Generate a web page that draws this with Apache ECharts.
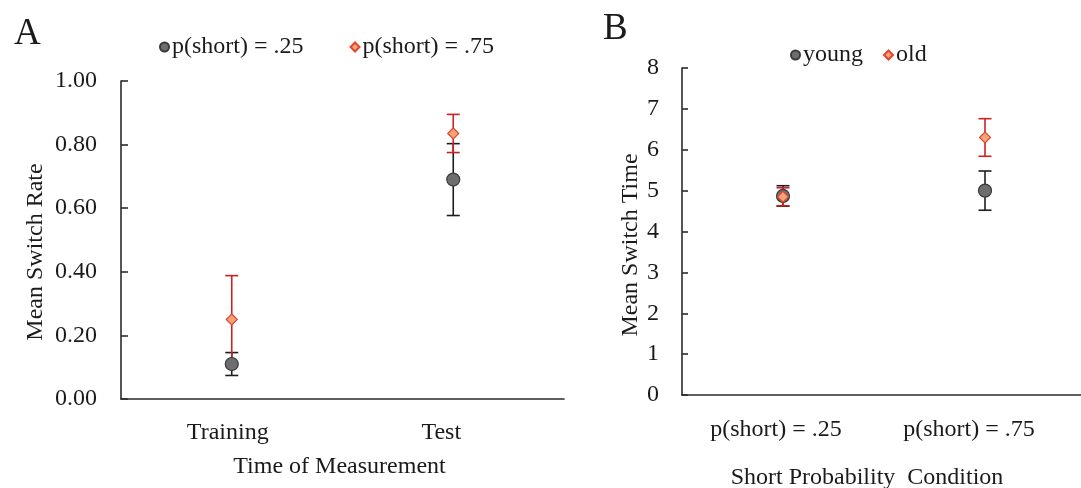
<!DOCTYPE html>
<html>
<head>
<meta charset="utf-8">
<script src="https://cdn.jsdelivr.net/npm/echarts@6/dist/echarts.min.js"></script>
<style>
html,body{margin:0;padding:0;background:#fff;}
#chart{width:1081px;height:488px;}
</style>
</head>
<body>
<div id="chart"></div>
<script>
// Panel A data
const catsA = ['Training', 'Test'];
const rateLowProb = [0.11, 0.69];      // p(short) = .25
const rateLowProbErr = [0.036, 0.113];
const rateHighProb = [0.25, 0.835];    // p(short) = .75
const rateHighProbErr = [0.138, 0.06];
const ticksA = [0, 0.2, 0.4, 0.6, 0.8, 1.0];

// Panel B data
const catsB = ['p(short) = .25', 'p(short) = .75'];
const timeYoung = [4.87, 5.0];
const timeYoungErr = [0.25, 0.48];
const timeOld = [4.85, 6.3];
const timeOldErr = [0.22, 0.46];
const ticksB = [0, 1, 2, 3, 4, 5, 6, 7, 8];

const FONT = '"Liberation Serif", "Times New Roman", serif';
const TXT = '#1a1a1a';
const FS = 24;

function errData(means, errs) {
  return means.map((m, i) => [i, m - errs[i], m + errs[i]]);
}
function errSeries(name, xi, yi, means, errs, color, z) {
  return {
    type: 'custom', name: name, xAxisIndex: xi, yAxisIndex: yi, z: z,
    silent: true,
    data: errData(means, errs),
    renderItem: function (params, api) {
      const x = api.value(0);
      const lo = api.coord([x, api.value(1)]);
      const hi = api.coord([x, api.value(2)]);
      const cw = 6.5;
      const st = { stroke: color, lineWidth: 1.6 };
      return {
        type: 'group',
        children: [
          { type: 'line', shape: { x1: lo[0], y1: lo[1], x2: hi[0], y2: hi[1] }, style: st },
          { type: 'line', shape: { x1: lo[0] - cw, y1: lo[1], x2: lo[0] + cw, y2: lo[1] }, style: st },
          { type: 'line', shape: { x1: hi[0] - cw, y1: hi[1], x2: hi[0] + cw, y2: hi[1] }, style: st }
        ]
      };
    }
  };
}

const circleStyle = { color: '#6e6e6e', borderColor: '#3a3a3a', borderWidth: 1.2, opacity: 1 };
const diamondStyle = { color: '#f4a27c', borderColor: '#e0472c', borderWidth: 1.2, opacity: 1 };

const axisLineStyle = { show: true, lineStyle: { color: '#2b2b2b', width: 1.6 } };

const chart = echarts.init(document.getElementById('chart'), null, { renderer: 'canvas' });
chart.setOption({
  animation: false,
  backgroundColor: '#fff',
  textStyle: { fontFamily: FONT, color: TXT },
  title: [
    { text: 'A', left: 9, top: 11, textStyle: { fontFamily: FONT, fontSize: 37, fontWeight: 'normal', color: TXT } },
    { text: 'B', left: 598, top: 6, textStyle: { fontFamily: FONT, fontSize: 37, fontWeight: 'normal', color: TXT } }
  ],
  legend: [
    {
      data: [
        { name: 'p(short) = .25', icon: 'circle' },
        { name: 'p(short) = .75', icon: 'diamond' }
      ],
      left: 154, top: 30, itemWidth: 9, itemHeight: 9, itemGap: 46,
      textStyle: { fontFamily: FONT, fontSize: FS, color: TXT, padding: [0, 0, 0, -2] }
    },
    {
      data: [
        { name: 'young', icon: 'circle' },
        { name: 'old', icon: 'diamond' }
      ],
      left: 785, top: 38, itemWidth: 9, itemHeight: 9, itemGap: 20,
      textStyle: { fontFamily: FONT, fontSize: FS, color: TXT, padding: [0, 0, 0, -2] }
    }
  ],
  grid: [
    { left: 121, top: 81, width: 443, height: 318, outerBoundsMode: 'none', containLabel: false },
    { left: 682, top: 68, width: 404, height: 327, outerBoundsMode: 'none', containLabel: false }
  ],
  xAxis: [
    {
      gridIndex: 0, type: 'category', data: catsA, boundaryGap: true,
      axisLine: axisLineStyle, axisTick: { show: false }, splitLine: { show: false },
      axisLabel: {
        interval: 0, margin: 22, color: TXT, fontFamily: FONT, fontSize: FS,
        formatter: function (v, i) { return '{c' + i + '|' + v + '}'; },
        rich: {
          c0: { padding: [0, 8, 0, 0], fontFamily: FONT, fontSize: FS, color: TXT },
          c1: { padding: [0, 24, 0, 0], fontFamily: FONT, fontSize: FS, color: TXT }
        }
      },
      name: 'Time of Measurement', nameLocation: 'middle', nameGap: 56,
      nameTextStyle: { fontFamily: FONT, fontSize: FS, color: TXT, padding: [0, 6, 0, 0] }
    },
    {
      gridIndex: 1, type: 'category', data: catsB, boundaryGap: true,
      axisLine: axisLineStyle, axisTick: { show: false }, splitLine: { show: false },
      axisLabel: {
        interval: 0, margin: 23, color: TXT, fontFamily: FONT, fontSize: FS,
        formatter: function (v, i) { return '{c' + i + '|' + v + '}'; },
        rich: {
          c0: { padding: [0, 14, 0, 0], fontFamily: FONT, fontSize: FS, color: TXT },
          c1: { padding: [0, 32, 0, 0], fontFamily: FONT, fontSize: FS, color: TXT }
        }
      },
      name: 'Short Probability  Condition', nameLocation: 'middle', nameGap: 71,
      nameTextStyle: { fontFamily: FONT, fontSize: FS, color: TXT, padding: [0, 34, 0, 0] }
    }
  ],
  yAxis: [
    {
      gridIndex: 0, type: 'value', min: ticksA[0], max: ticksA[ticksA.length - 1], interval: 0.2,
      axisLine: axisLineStyle,
      axisTick: { show: true, inside: true, length: 7, lineStyle: { color: '#2b2b2b', width: 1.6 } },
      splitLine: { show: false },
      axisLabel: { margin: 24, color: TXT, fontFamily: FONT, fontSize: FS, formatter: function (v) { return v.toFixed(2); } },
      name: 'Mean Switch Rate', nameLocation: 'middle', nameGap: 73,
      nameTextStyle: { fontFamily: FONT, fontSize: FS, color: TXT, padding: [0, 24, 0, 0] }
    },
    {
      gridIndex: 1, type: 'value', min: ticksB[0], max: ticksB[ticksB.length - 1], interval: 1,
      axisLine: axisLineStyle,
      axisTick: { show: true, inside: true, length: 6, lineStyle: { color: '#2b2b2b', width: 1.6 } },
      splitLine: { show: false },
      axisLabel: { margin: 23, color: TXT, fontFamily: FONT, fontSize: FS },
      name: 'Mean Switch Time', nameLocation: 'middle', nameGap: 37,
      nameTextStyle: { fontFamily: FONT, fontSize: FS, color: TXT, padding: [0, 27, 0, 0] }
    }
  ],
  series: [
    // Panel A
    errSeries('errA1', 0, 0, rateLowProb, rateLowProbErr, '#1e1e1e', 2),
    errSeries('errA2', 0, 0, rateHighProb, rateHighProbErr, '#d21f1f', 3),
    {
      type: 'scatter', name: 'p(short) = .25', xAxisIndex: 0, yAxisIndex: 0, z: 4,
      symbol: 'circle', symbolSize: 13, itemStyle: circleStyle,
      data: rateLowProb.map((v, i) => [i, v])
    },
    {
      type: 'scatter', name: 'p(short) = .75', xAxisIndex: 0, yAxisIndex: 0, z: 5,
      symbol: 'diamond', symbolSize: 11, itemStyle: diamondStyle,
      data: rateHighProb.map((v, i) => [i, v])
    },
    // Panel B
    errSeries('errB1', 1, 1, timeYoung, timeYoungErr, '#1e1e1e', 2),
    errSeries('errB2', 1, 1, timeOld, timeOldErr, '#d21f1f', 3),
    {
      type: 'scatter', name: 'young', xAxisIndex: 1, yAxisIndex: 1, z: 4,
      symbol: 'circle', symbolSize: 13, itemStyle: circleStyle,
      data: timeYoung.map((v, i) => [i, v])
    },
    {
      type: 'scatter', name: 'old', xAxisIndex: 1, yAxisIndex: 1, z: 5,
      symbol: 'diamond', symbolSize: 11, itemStyle: diamondStyle,
      data: timeOld.map((v, i) => [i, v])
    }
  ]
});
</script>
</body>
</html>
